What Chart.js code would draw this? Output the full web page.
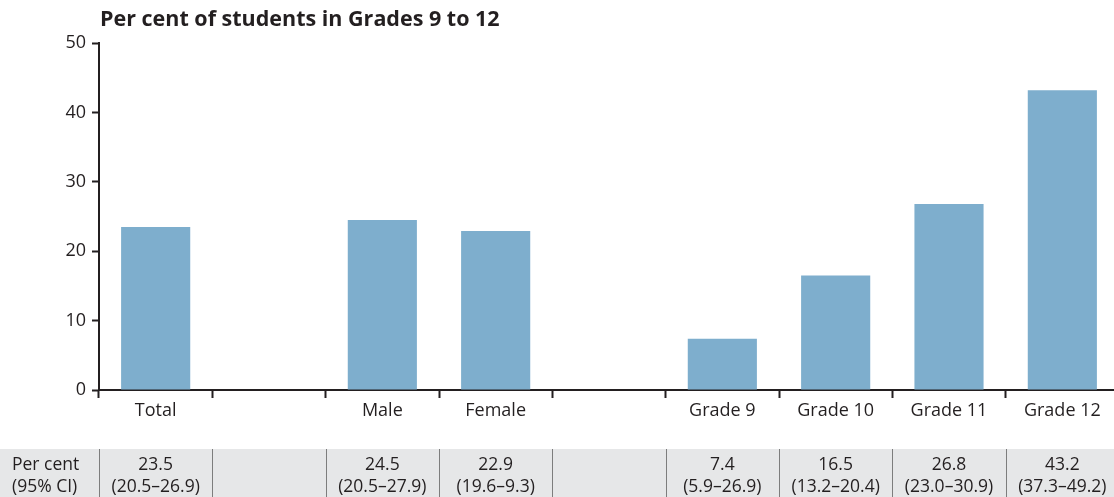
<!DOCTYPE html>
<html><head><meta charset="utf-8">
<script src="https://cdn.jsdelivr.net/npm/chart.js@4"></script>
<style>html,body{margin:0;padding:0;overflow:hidden;background:#fff}#wrap{width:1125px;height:497px;position:relative}</style>
</head><body><div id="wrap"><canvas id="c"></canvas></div>
<script>
const titleText = 'Per cent of students in Grades 9 to 12';
const categories = ['Total', '', 'Male', 'Female', '', 'Grade 9', 'Grade 10', 'Grade 11', 'Grade 12'];
const values = [23.5, null, 24.5, 22.9, null, 7.4, 16.5, 26.8, 43.2];
const ciLabels = ['(20.5–26.9)', '', '(20.5–27.9)', '(19.6–9.3)', '', '(5.9–26.9)', '(13.2–20.4)', '(23.0–30.9)', '(37.3–49.2)'];
const tableHeader = ['Per cent', '(95% CI)'];
const yMin = 0, yMax = 50, yStep = 10;

const FONT = '"Open Sans", sans-serif';
const INK = '#231f20';

const titlePlugin = {
  id: 'titlePlugin',
  afterDraw(chart) {
    const ctx = chart.ctx;
    ctx.save();
    ctx.font = 'bold 21.5px ' + FONT;
    ctx.fillStyle = INK;
    ctx.textAlign = 'left';
    ctx.textBaseline = 'middle';
    ctx.fillText(titleText, chart.chartArea.left + 1, 20);
    ctx.restore();
  }
};

const tablePlugin = {
  id: 'tablePlugin',
  afterDraw(chart) {
    const ctx = chart.ctx;
    const xs = chart.scales.x;
    const top = 449, bottom = 497;
    const half = (xs.getPixelForValue(1) - xs.getPixelForValue(0)) / 2;
    ctx.save();
    ctx.fillStyle = '#e6e7e8';
    ctx.fillRect(0, top, chart.width, bottom - top);
    ctx.strokeStyle = '#7d7d7d';
    ctx.lineWidth = 1;
    for (let i = 0; i <= categories.length; i++) {
      const x = Math.round(xs.getPixelForValue(i) - half) + 0.5;
      ctx.beginPath(); ctx.moveTo(x, top); ctx.lineTo(x, bottom); ctx.stroke();
    }
    ctx.fillStyle = INK;
    ctx.font = '17.5px ' + FONT;
    ctx.textBaseline = 'middle';
    ctx.textAlign = 'left';
    ctx.fillText(tableHeader[0], 12, 465);
    ctx.fillText(tableHeader[1], 12, 487);
    ctx.textAlign = 'center';
    categories.forEach((c, i) => {
      if (values[i] === null) return;
      const x = xs.getPixelForValue(i);
      ctx.fillText(values[i].toFixed(1), x, 465);
      ctx.fillText(ciLabels[i], x, 487);
    });
    ctx.restore();
  }
};

new Chart(document.getElementById('c'), {
  type: 'bar',
  data: {
    labels: categories,
    datasets: [{
      data: values,
      backgroundColor: '#7eaecd',
      borderWidth: 0,
      categoryPercentage: 1,
      barPercentage: 0.61
    }]
  },
  options: {
    responsive: true,
    maintainAspectRatio: false,
    animation: false,
    layout: { padding: { top: 43, right: 6, left: 0, bottom: 0 } },
    plugins: { legend: { display: false }, tooltip: { enabled: false }, title: { display: false } },
    scales: {
      x: {
        grid: { display: true, drawOnChartArea: false, drawTicks: true, tickLength: 8, offset: true, tickColor: INK, tickWidth: 2 },
        border: { display: true, color: INK, width: 2 },
        ticks: { color: INK, font: { family: FONT, size: 18 }, padding: 2, maxRotation: 0, autoSkip: false },
        afterFit(scale) { scale.height = 107; }
      },
      y: {
        min: yMin, max: yMax,
        grid: { display: true, drawOnChartArea: false, drawTicks: true, tickLength: 7, tickColor: INK, tickWidth: 2 },
        border: { display: true, color: INK, width: 2 },
        ticks: { stepSize: yStep, color: INK, font: { family: FONT, size: 18 }, padding: 6 },
        afterFit(scale) { scale.width = 99; }
      }
    }
  },
  plugins: [titlePlugin, tablePlugin]
});
</script>
</body></html>
